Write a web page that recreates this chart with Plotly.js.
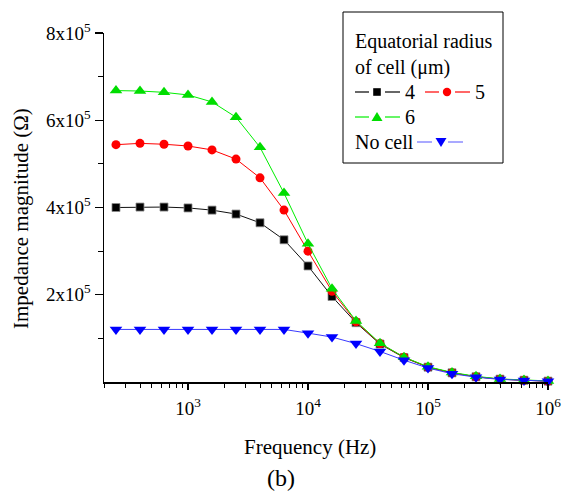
<!DOCTYPE html>
<html>
<head>
<meta charset="utf-8">
<script src="https://cdn.plot.ly/plotly-3.0.1.min.js"></script>
<style>html,body{margin:0;padding:0;background:#fff;}#chart{width:563px;height:492px;}</style>
</head>
<body>
<div id="chart"></div>
<script>
// ---- data ----
const frequency = [251, 398, 631, 1000, 1585, 2512, 3981, 6310, 10000, 15849, 25119, 39811, 63096, 100000, 158489, 251189, 398107, 630957, 1000000];
const radius4 = [4.00e5, 4.01e5, 4.01e5, 3.99e5, 3.94e5, 3.85e5, 3.65e5, 3.26e5, 2.66e5, 1.96e5, 1.36e5, 0.87e5, 0.56e5, 0.34e5, 0.21e5, 0.12e5, 0.065e5, 0.04e5, 0.02e5];
const radius5 = [5.44e5, 5.47e5, 5.45e5, 5.41e5, 5.32e5, 5.11e5, 4.68e5, 3.94e5, 3.00e5, 2.08e5, 1.38e5, 0.88e5, 0.57e5, 0.34e5, 0.21e5, 0.12e5, 0.065e5, 0.04e5, 0.02e5];
const radius6 = [6.68e5, 6.67e5, 6.64e5, 6.58e5, 6.42e5, 6.07e5, 5.38e5, 4.33e5, 3.17e5, 2.14e5, 1.40e5, 0.89e5, 0.57e5, 0.35e5, 0.22e5, 0.13e5, 0.07e5, 0.045e5, 0.025e5];
const noCell  = [1.205e5, 1.205e5, 1.205e5, 1.205e5, 1.205e5, 1.205e5, 1.205e5, 1.205e5, 1.12e5, 1.03e5, 0.88e5, 0.70e5, 0.50e5, 0.32e5, 0.19e5, 0.11e5, 0.06e5, 0.035e5, 0.02e5];

const xTickVals = [1000, 10000, 100000, 1000000];
const xTickText = ['10<sup>3</sup>', '10<sup>4</sup>', '10<sup>5</sup>', '10<sup>6</sup>'];
const xMinorTicks = [200, 300, 400, 500, 600, 700, 800, 900, 2000, 3000, 4000, 5000, 6000, 7000, 8000, 9000, 20000, 30000, 40000, 50000, 60000, 70000, 80000, 90000, 200000, 300000, 400000, 500000, 600000, 700000, 800000, 900000];
const yTickVals = [200000, 400000, 600000, 800000];
const yTickText = ['2x10<sup>5</sup>', '4x10<sup>5</sup>', '6x10<sup>5</sup>', '8x10<sup>5</sup>'];
const yMinorTicks = [100000, 300000, 500000, 700000];

const seriesNames = ['4', '5', '6', 'No cell'];
const legendTitle = ['Equatorial radius', 'of cell (\u03bcm)'];

// ---- layout geometry ----
const W = 563, H = 492;
const M = {l: 104, r: 15, t: 33, b: 110};
const PW = W - M.l - M.r, PH = H - M.t - M.b;
const px = v => (v - M.l) / PW;
const py = v => (H - M.b - v) / PH;
const FONT = 'Liberation Serif';

function tr(y, name, color, lineColor, symbol, size, mline) {
  return {
    x: frequency, y: y, name: name, type: 'scatter', mode: 'lines+markers',
    line: {color: lineColor, width: 1},
    marker: {symbol: symbol, size: size, color: color, line: mline},
    cliponaxis: false, showlegend: false
  };
}
const data = [
  tr(radius4, seriesNames[0], '#000000', '#111111', 'square', 8, {color: '#8a8a8a', width: 0.8}),
  tr(radius5, seriesNames[1], '#ff0000', '#ff0000', 'circle', 9, {width: 0}),
  tr(radius6, seriesNames[2], '#00dd00', '#00ee00', 'triangle-up', 11, {width: 0}),
  tr(noCell,  seriesNames[3], '#0000ff', '#3a3aff', 'triangle-down', 11, {width: 0})
];

// ---- custom legend (matches the reference's layout) ----
const shapes = [];
const annotations = [];
shapes.push({type: 'rect', xref: 'paper', yref: 'paper', x0: px(343), x1: px(503), y0: py(12), y1: py(163),
  line: {color: '#000', width: 1}, fillcolor: 'rgba(0,0,0,0)'});
function dash(x0, x1, y, color) {
  shapes.push({type: 'line', xref: 'paper', yref: 'paper', x0: px(x0), x1: px(x1), y0: py(y), y1: py(y), line: {color: color, width: 1.2}});
}
function sym(kind, cx, cy, color) {
  const base = {xref: 'paper', yref: 'paper', xsizemode: 'pixel', ysizemode: 'pixel', xanchor: px(cx), yanchor: py(cy),
    fillcolor: color, line: {width: 0}};
  if (kind === 'square') shapes.push(Object.assign({type: 'rect', x0: -3.8, x1: 3.8, y0: -3.8, y1: 3.8}, base));
  else if (kind === 'circle') shapes.push(Object.assign({type: 'circle', x0: -4.2, x1: 4.2, y0: -4.2, y1: 4.2}, base));
  else if (kind === 'up') shapes.push(Object.assign({type: 'path', path: 'M-5.5,-4 L5.5,-4 L0,5 Z'}, base));
  else if (kind === 'down') shapes.push(Object.assign({type: 'path', path: 'M-5.5,4 L5.5,4 L0,-5 Z'}, base));
}
function label(text, x, y) {
  annotations.push({text: text, xref: 'paper', yref: 'paper', x: px(x), y: py(y), xanchor: 'left', yanchor: 'middle',
    showarrow: false, font: {family: FONT, size: 20, color: '#000'}});
}
label(legendTitle[0], 353, 42);
label(legendTitle[1], 353, 67);
// row: 4 and 5
dash(355, 369, 92, '#000'); sym('square', 377, 92, '#000'); dash(385, 400, 92, '#000'); label(seriesNames[0], 403, 92);
dash(425, 439, 92, '#ff0000'); sym('circle', 447, 92, '#ff0000'); dash(455, 470, 92, '#ff0000'); label(seriesNames[1], 473, 92);
// row: 6
dash(355, 369, 117, '#00ee00'); sym('up', 377, 117, '#00dd00'); dash(385, 400, 117, '#00ee00'); label(seriesNames[2], 403, 117);
// row: no cell
label(seriesNames[3], 353, 142);
dash(417, 432, 142, '#7070ff'); sym('down', 441, 142, '#0000ff'); dash(448, 463, 142, '#7070ff');

// ---- axis titles ----
annotations.push({text: 'Frequency (Hz)', xref: 'paper', yref: 'paper', x: px(310), y: py(447), xanchor: 'center', yanchor: 'middle',
  showarrow: false, font: {family: FONT, size: 21, color: '#000'}});
annotations.push({text: '(b)', xref: 'paper', yref: 'paper', x: px(281), y: py(478), xanchor: 'center', yanchor: 'middle',
  showarrow: false, font: {family: FONT, size: 24, color: '#000'}});
annotations.push({text: 'Impedance magnitude (\u03a9)', xref: 'paper', yref: 'paper', x: px(21), y: py(219), xanchor: 'center', yanchor: 'middle',
  textangle: -90, showarrow: false, font: {family: FONT, size: 21, color: '#000'}});

const layout = {
  width: W, height: H,
  margin: M,
  paper_bgcolor: '#fff', plot_bgcolor: '#fff',
  showlegend: false,
  font: {family: FONT, size: 19, color: '#000'},
  xaxis: {
    type: 'log', range: [Math.log10(199.5), 6], autorange: false,
    tickmode: 'array', tickvals: xTickVals, ticktext: xTickText,
    ticks: 'outside', ticklen: 6, tickwidth: 1.2, tickcolor: '#000', ticklabelstandoff: 3,
    minor: {tickmode: 'array', tickvals: xMinorTicks, ticks: 'outside', ticklen: 4, tickwidth: 1, tickcolor: '#000', showgrid: false},
    showline: true, linecolor: '#000', linewidth: 1.5, mirror: false,
    showgrid: false, zeroline: false,
    tickfont: {family: FONT, size: 19, color: '#000'}
  },
  yaxis: {
    range: [0, 8e5], autorange: false,
    tickmode: 'array', tickvals: yTickVals, ticktext: yTickText,
    ticks: 'outside', ticklen: 8, tickwidth: 1.2, tickcolor: '#000',
    minor: {tickmode: 'array', tickvals: yMinorTicks, ticks: 'outside', ticklen: 5, tickwidth: 1, tickcolor: '#000', showgrid: false},
    showline: true, linecolor: '#000', linewidth: 1.5, mirror: false,
    showgrid: false, zeroline: false,
    tickfont: {family: FONT, size: 19, color: '#000'}
  },
  shapes: shapes,
  annotations: annotations
};

Plotly.newPlot('chart', data, layout, {staticPlot: true, displayModeBar: false});
</script>
</body>
</html>
